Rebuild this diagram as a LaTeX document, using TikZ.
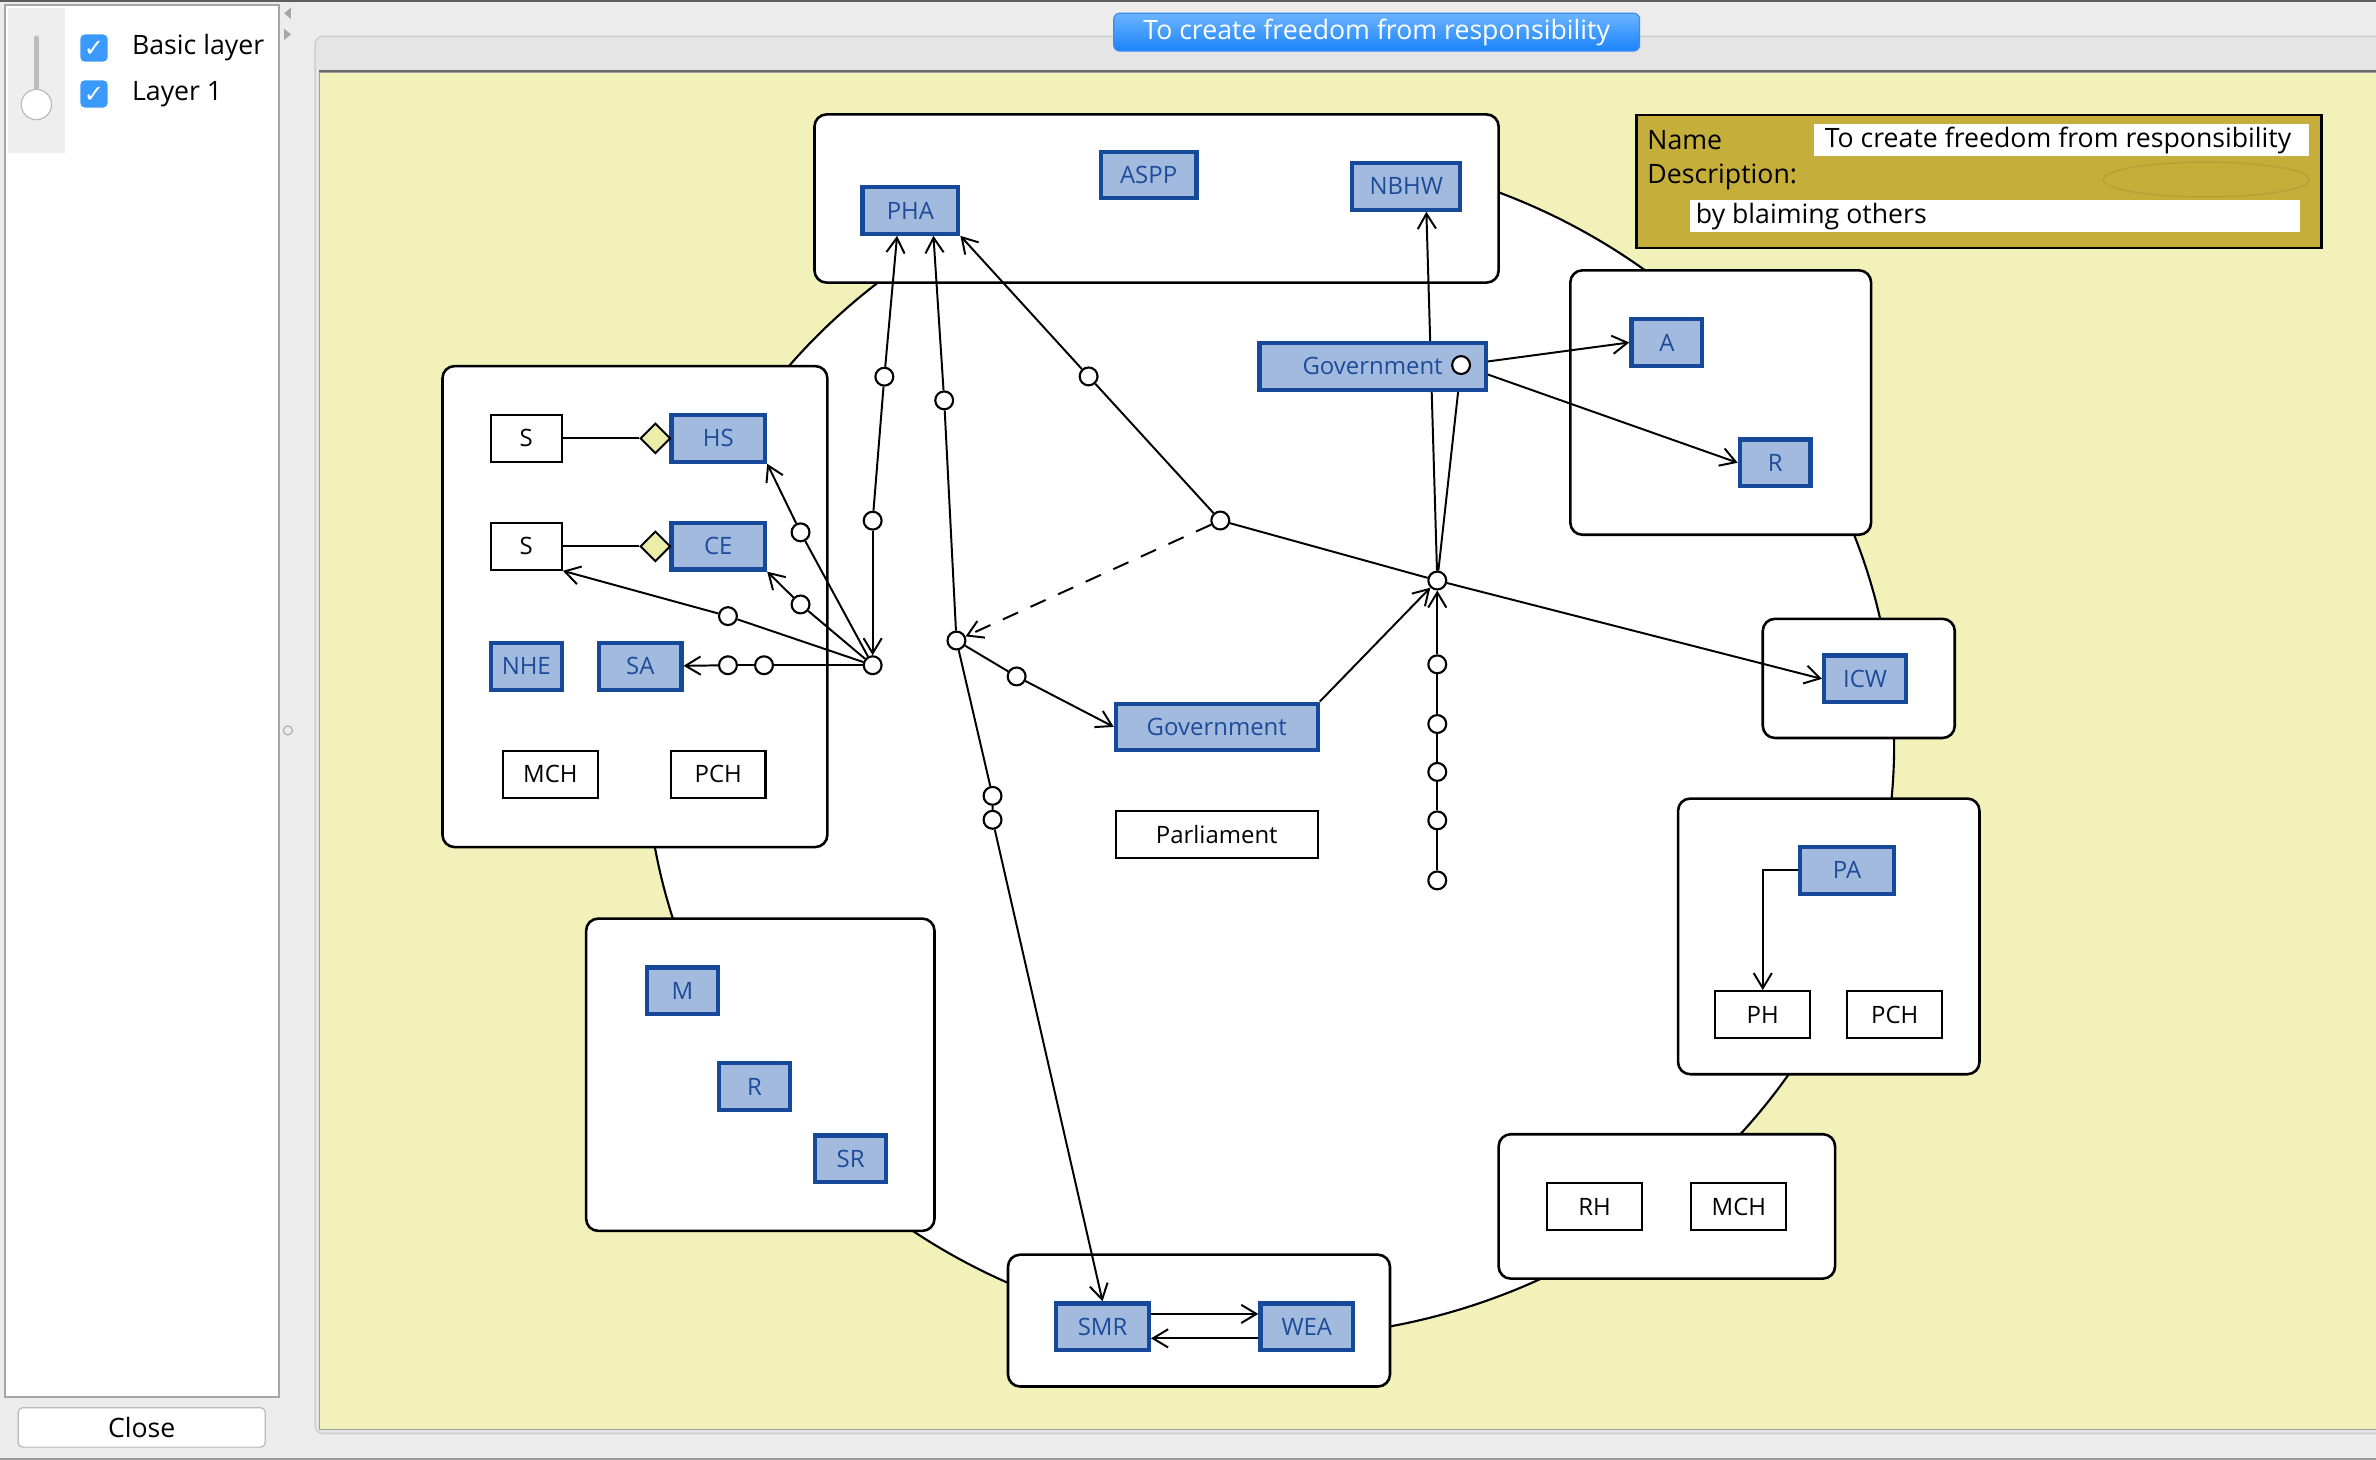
\documentclass[tikz,border=0pt]{standalone}
\usepackage{fontspec}
\setmainfont{Open Sans}
\newfontfamily\symfont{DejaVu Sans}
\usetikzlibrary{arrows.meta,calc,shapes.geometric}
\definecolor{chrome}{HTML}{ECECEC}
\definecolor{darkline}{HTML}{5E5E5E}
\definecolor{panelborder}{HTML}{A6A6A6}
\definecolor{sliderbg}{HTML}{EEEEEE}
\definecolor{track}{HTML}{BDBDBD}
\definecolor{knobborder}{HTML}{BBBBBB}
\definecolor{checkblue}{HTML}{3B99FC}
\definecolor{tabbg}{HTML}{E5E5E5}
\definecolor{tabborder}{HTML}{CFCFCF}
\definecolor{yellowbg}{HTML}{F2F1B9}
\definecolor{yellowborder}{HTML}{6B6B6B}
\definecolor{btntop}{HTML}{6CB4FF}
\definecolor{btnbot}{HTML}{1A83FB}
\definecolor{btnborder}{HTML}{3A8BF0}
\definecolor{fillblue}{HTML}{A3BADF}
\definecolor{bordblue}{HTML}{17499A}
\definecolor{textblue}{HTML}{1D4C9A}
\definecolor{diafill}{HTML}{EDEDAA}
\definecolor{namefill}{HTML}{C5AE3A}
\definecolor{ellline}{HTML}{B7A236}
\pgfdeclarelayer{bg}
\pgfdeclarelayer{edges}
\pgfsetlayers{bg,edges,main}
\begin{document}
\begin{tikzpicture}[x=1pt,y=-1pt,
  every node/.style={font=\fontsize{15.8}{19}\selectfont, inner sep=0pt},
  ui/.style={font=\fontsize{17.6}{21}\selectfont},
  bbox/.style={draw=bordblue, fill=fillblue, line width=2.8pt, text=textblue, minimum height=30.7pt},
  wbox/.style={draw=black, fill=white, line width=1.4pt, minimum height=30.8pt},
  cont/.style={draw=black, fill=white, line width=1.7pt, rounded corners=8pt},
  dot/.style={circle, draw=black, fill=white, line width=1.4pt, minimum size=11.8pt},
  conn/.style={line width=1.3pt},
  arr/.style={conn, -{Straight Barb[length=10pt,width=12pt]}},
  dia/.style={diamond, draw=black, fill=diafill, line width=1.3pt, minimum width=20pt, minimum height=20pt},
  lbl/.style={ui, anchor=west, text=black}
]
\useasboundingbox (0,0) rectangle (1568,963.5);

\begin{pgfonlayer}{bg}
\fill[chrome] (0,0) rectangle (1568,963.5);
\fill[darkline] (0,0) rectangle (1568,1.6);
\fill[gray!80] (0,962) rectangle (1568,963.5);
% left panel
\draw[fill=white, draw=panelborder, line width=1pt] (3.2,3.2) rectangle (184,922);
\fill[sliderbg] (5.5,5.5) rectangle (43,101);
\draw[track, line width=3pt, line cap=round] (24,25) -- (24,62);
\draw[fill=white, draw=knobborder, line width=0.8pt] (24,69) circle (10pt);
% splitter
\fill[gray!70] (192,5) -- (187.5,8.8) -- (192,12.5) -- cycle;
\fill[gray!70] (187.5,19) -- (192,22.7) -- (187.5,26.4) -- cycle;
\draw[gray!60, line width=0.8pt] (190,482) circle (3pt);
% tab panel
\draw[fill=tabbg, draw=tabborder, line width=1pt, rounded corners=5pt] (208,24) rectangle (1580,946);
\draw[fill=yellowbg, draw=gray!75, line width=1pt] (211,47.6) rectangle (1580,943.3);
\draw[yellowborder, line width=1.6pt] (210.5,46.8) -- (1580,46.8);
% big ellipse
\draw[fill=white, line width=1.4pt] (838,491.2) ellipse [x radius=412pt, y radius=391.4pt];
% containers
\draw[cont] (537.5,75.5) rectangle (989,186.5);
\draw[cont] (292,241.6) rectangle (546,559);
\draw[cont] (386.8,606.2) rectangle (616.7,812.3);
\draw[cont] (665.2,828) rectangle (917.3,915);
\draw[cont] (989,748.5) rectangle (1211,843.8);
\draw[cont] (1107.4,527) rectangle (1306.3,708.9);
\draw[cont] (1036.3,178.4) rectangle (1234.8,352.9);
\draw[cont] (1163.3,408.4) rectangle (1290,487);
\end{pgfonlayer}

% left panel widgets
\node[fill=checkblue, rounded corners=3pt, minimum size=18pt] (cb1) at (62,31.7) {};
\node[text=white, font=\symfont\fontsize{16}{16}\selectfont] (ck1) at (62,32.2) {✓};
\node[fill=checkblue, rounded corners=3pt, minimum size=18pt] (cb2) at (62,62) {};
\node[text=white, font=\symfont\fontsize{16}{16}\selectfont] (ck2) at (62,62.5) {✓};
\node[lbl] (l1) at (87,31.7) {Basic layer};
\node[lbl] (l2) at (87,62) {Layer 1};
\node[ui, draw=gray!55, fill=white, rounded corners=3pt, line width=0.8pt, minimum width=163pt, minimum height=26pt] (close) at (93.5,942) {Close};

% title button
\node[ui, rounded corners=4pt, top color=btntop, bottom color=btnbot, draw=btnborder, line width=0.8pt,
      minimum width=347pt, minimum height=25pt, text=white] (title) at (908.5,21.2) {To create freedom from responsibility};

% name panel
\node[fill=namefill, draw=black, line width=1.8pt, minimum width=452pt, minimum height=87.8pt] (namepanel) at (1306,119.8) {};
\node[fill=white, minimum width=327pt, minimum height=21pt] (field1) at (1360.5,92.5) {};
\node[fill=white, minimum width=402.5pt, minimum height=21pt] (field2) at (1316.8,142.5) {};
\draw[ellline, line width=1pt] (1456,118.5) ellipse [x radius=68pt, y radius=11.5pt];
\node[lbl] (nm) at (1087,92.5) {Name};
\node[lbl] (nmv) at (1204,92.5) {To create freedom from responsibility};
\node[lbl] (ds) at (1087,117) {Description:};
\node[lbl] (dsv) at (1119,143) {by blaiming others};

% blue boxes
\node[bbox, minimum width=63.2pt] (PHA) at (600.8,138.9) {PHA};
\node[bbox, minimum width=63.2pt] (ASPP) at (758,115.5) {ASPP};
\node[bbox, minimum width=71.2pt] (NBHW) at (928,123) {NBHW};
\node[bbox, minimum width=149.2pt] (GovA) at (905.8,241.8) {Government};
\node[bbox, minimum width=46.7pt] (Abox) at (1100,226) {A};
\node[bbox, minimum width=46.7pt] (Rbox) at (1171.5,305.4) {R};
\node[bbox, minimum width=54.2pt] (ICW) at (1230.8,448) {ICW};
\node[bbox, minimum width=133.2pt] (GovB) at (803,479.7) {Government};
\node[bbox, minimum width=61.8pt] (HS) at (474,289.3) {HS};
\node[bbox, minimum width=61.8pt] (CE) at (474,360.5) {CE};
\node[bbox, minimum width=46.9pt] (NHE) at (347.3,439.8) {NHE};
\node[bbox, minimum width=54.2pt] (SA) at (422.6,439.8) {SA};
\node[bbox, minimum width=46.7pt] (M) at (450.4,653.9) {M};
\node[bbox, minimum width=46.7pt] (R2) at (498,717) {R};
\node[bbox, minimum width=46.7pt] (SR) at (561.4,764.7) {SR};
\node[bbox, minimum width=61.2pt] (SMR) at (727.6,875.5) {SMR};
\node[bbox, minimum width=61.2pt] (WEA) at (862.4,875.5) {WEA};
\node[bbox, minimum width=62.2pt] (PA) at (1218.9,574.4) {PA};

% white boxes
\node[wbox, minimum width=46.9pt] (S1) at (347.3,289.3) {S};
\node[wbox, minimum width=46.9pt] (S2) at (347.3,360.6) {S};
\node[wbox, minimum width=62.3pt] (MCH1) at (363.2,511) {MCH};
\node[wbox, minimum width=62.3pt] (PCH1) at (474,511) {PCH};
\node[wbox, minimum width=133.6pt] (Parl) at (803,550.6) {Parliament};
\node[wbox, minimum width=62.5pt] (PH) at (1163.3,669.5) {PH};
\node[wbox, minimum width=62.5pt] (PCH2) at (1250.4,669.5) {PCH};
\node[wbox, minimum width=62.6pt] (RH) at (1052.3,796.3) {RH};
\node[wbox, minimum width=62.6pt] (MCH2) at (1147.5,796.3) {MCH};

% diamonds
\node[dia] (D1) at (432.5,289.3) {};
\node[dia] (D2) at (432.5,360.6) {};

% circles
\node[dot] (J1) at (575.9,439) {};
\node[dot] (c1) at (528.3,351.3) {};
\node[dot] (c2) at (528.3,398.9) {};
\node[dot] (c3) at (480.4,406.6) {};
\node[dot] (c4) at (504.2,439) {};
\node[dot] (c5) at (480.4,439) {};
\node[dot] (c6) at (583.6,248.6) {};
\node[dot] (c7) at (575.9,343.6) {};
\node[dot] (c8) at (623.1,264.2) {};
\node[dot] (c9) at (631.2,422.7) {};
\node[dot] (c10) at (655,525.2) {};
\node[dot] (c11) at (655,541) {};
\node[dot] (c12) at (718.4,248.4) {};
\node[dot] (J3) at (805.3,343.5) {};
\node[dot] (J2) at (948.5,383.1) {};
\node[dot] (c13) at (670.9,446.4) {};
\node[dot] (v1) at (948.5,438.4) {};
\node[dot] (v2) at (948.5,477.8) {};
\node[dot] (v3) at (948.5,509.4) {};
\node[dot] (v4) at (948.5,541.4) {};
\node[dot] (v5) at (948.5,581) {};
\node[dot] (gp) at (964.2,240.9) {};

\begin{pgfonlayer}{edges}
\draw[conn] (S1) -- (D1);
\draw[conn] (S2) -- (D2);
\draw[conn] (J1) -- (c1); \draw[arr] (c1) -- (HS.south east);
\draw[conn] (J1) -- (c2); \draw[arr] (c2) -- (CE.south east);
\draw[conn] (J1) -- (c3); \draw[arr] (c3) -- (S2.south east);
\draw[conn] (J1) -- (c4) -- (c5); \draw[arr] (c5) -- (SA);
\draw[conn] (c6) -- (c7); \draw[arr] (c7) -- (J1);
\draw[arr] (c6) -- ($(PHA.south)+(-8.8,0)$);
\draw[arr] (c8) -- ($(PHA.south)+(15.2,0)$);
\draw[conn] (c8) -- (c9) -- (c10) -- (c11);
\draw[arr] (c11) -- (SMR.north);
\draw[arr] (c12) -- (PHA.south east);
\draw[conn] (c12) -- (J3);
\draw[conn] (J3) -- (J2);
\draw[arr] (J2) -- (ICW.west);
\draw[arr, dash pattern=on 11pt off 9pt] (J3) -- (c9);
\draw[conn] (c9) -- (c13); \draw[arr] (c13) -- (GovB.west);
\draw[arr] (GovB.north east) -- (J2);
\draw[conn] (v5) -- (v4) -- (v3) -- (v2) -- (v1); \draw[arr] (v1) -- (J2);
\draw[arr] (J2) -- ($(NBHW.south)+(13.3,0)$);
\draw[conn] (gp) -- (J2);
\draw[arr] (gp) -- (Abox.west);
\draw[arr] (gp) -- (Rbox.west);
\draw[arr] ($(SMR.east)+(0,-8.4)$) -- ($(WEA.west)+(0,-8.4)$);
\draw[arr] ($(WEA.west)+(0,7.7)$) -- ($(SMR.east)+(0,7.7)$);
\draw[arr] (PA.west) -| (PH.north);
\end{pgfonlayer}
\end{tikzpicture}
\end{document}
